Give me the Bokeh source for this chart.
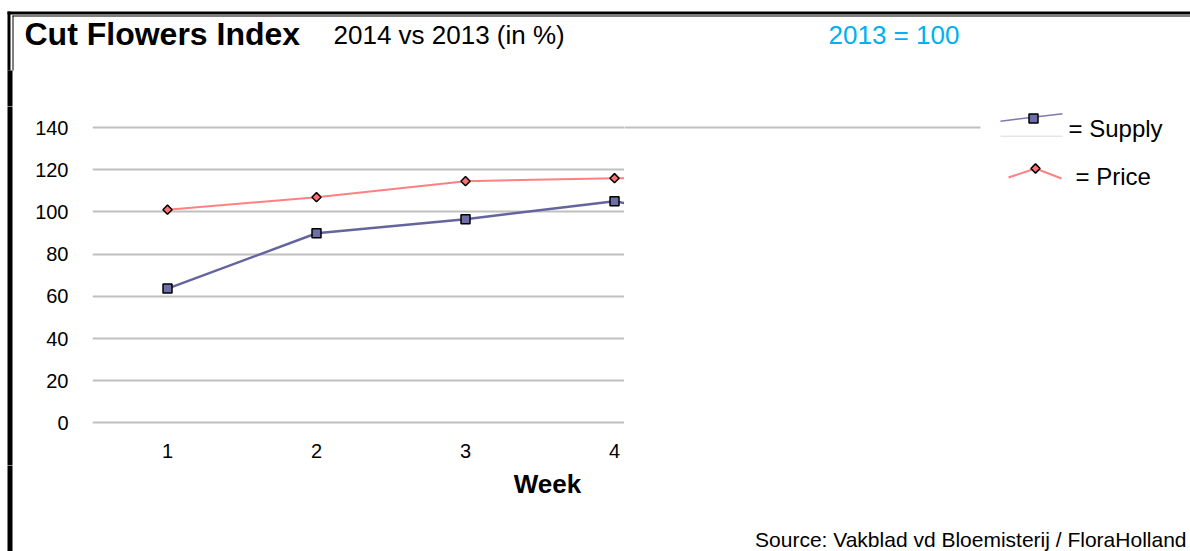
import numpy as np
from bokeh.plotting import figure
from bokeh.layouts import row, column
from bokeh.models import Range1d, FixedTicker, Label, BoxAnnotation
from bokeh.embed import file_html
from bokeh.resources import INLINE

# ---- data ----
weeks = [1, 2, 3, 4, 5]
supply = [63.7, 89.9, 96.6, 105.1, 92.0]
price = [101.1, 107.0, 114.6, 116.0, 116.0]
x_ticks = [1, 2, 3, 4]
y_ticks = [0, 20, 40, 60, 80, 100, 120, 140]

FONT = "Liberation Sans"
SUPPLY_LINE = "#64649E"
SUPPLY_FILL = "#6E6EA8"
PRICE_LINE = "#FF8080"
PRICE_FILL = "#FF7070"
GRID = "#C0C0C0"

TOTAL_W, TOTAL_H = 1190, 551
TOP_H, MID_H = 106, 359
BOT_H = TOTAL_H - TOP_H - MID_H
STRIP_W, CHART_W = 14, 610
RIGHT_W = TOTAL_W - STRIP_W - CHART_W


def pixel_fig(x0, x1, y0, y1):
    """Figure whose data space equals reference pixel coordinates (y downward)."""
    f = figure(width=x1 - x0, height=y1 - y0, output_backend="svg", toolbar_location=None,
               x_range=Range1d(x0, x1), y_range=Range1d(y1, y0),
               x_axis_type=None, y_axis_type=None,
               min_border=0, min_border_left=0, min_border_right=0,
               min_border_top=0, min_border_bottom=0)
    f.outline_line_color = None
    f.grid.visible = False
    f.background_fill_color = "white"
    f.border_fill_color = "white"
    return f


def rect(f, l, r, t, b, color="black"):
    f.add_layout(BoxAnnotation(left=l, right=r, top=t, bottom=b,
                               fill_color=color, fill_alpha=1, line_alpha=0))


def text(f, x, y, s, size, style="normal", color="black", align="left"):
    f.add_layout(Label(x=x, y=y, text=s, text_font=FONT, text_font_size=size,
                       text_font_style=style, text_color=color,
                       text_align=align, text_baseline="middle"))


def left_bar(f):
    rect(f, 7, 12, -2000, 2000)


# ---- top strip: frame + titles ----
top = pixel_fig(0, TOTAL_W, 0, TOP_H)
rect(top, 7, TOTAL_W, 11, 14)
rect(top, 12, TOTAL_W, 15, 16)
rect(top, 7, 10, 11, 70)
rect(top, 12, 13, 15, 70)
rect(top, 7, 12, 70, 200)
text(top, 24, 33, "Cut Flowers Index", "32px", "bold")
text(top, 333, 34, "2014 vs 2013 (in %)", "26px")
text(top, 828, 34, "2013 = 100", "26px", color="#00B0F0")

# ---- middle: left border strip ----
strip = pixel_fig(0, STRIP_W, TOP_H, TOP_H + MID_H)
left_bar(strip)

# ---- middle: chart ----
p = figure(width=CHART_W, height=MID_H, output_backend="svg", toolbar_location=None,
           x_range=Range1d(0.4966, 4.067), y_range=Range1d(-20.17, 150),
           min_border_left=78, min_border_right=0, min_border_top=0, min_border_bottom=0)
p.outline_line_color = None
p.background_fill_color = "white"
p.border_fill_color = "white"
p.xgrid.grid_line_color = None
p.ygrid.grid_line_color = GRID
p.ygrid.grid_line_width = 2
p.ygrid.ticker = FixedTicker(ticks=y_ticks)
for ax in (p.xaxis[0], p.yaxis[0]):
    ax.axis_line_color = None
    ax.major_tick_line_color = None
    ax.minor_tick_line_color = None
    ax.major_label_text_font = FONT
    ax.major_label_text_font_size = "20px"
    ax.major_label_text_color = "black"
p.xaxis[0].ticker = FixedTicker(ticks=x_ticks)
p.xaxis[0].fixed_location = -5
p.yaxis[0].ticker = FixedTicker(ticks=y_ticks)
p.yaxis[0].major_label_standoff = 18
p.xaxis[0].major_label_standoff = 5

p.line(weeks, price, line_color=PRICE_LINE, line_width=2)
p.scatter(weeks, price, marker="square", angle=np.pi / 4, size=6.5,
          fill_color=PRICE_FILL, line_color="black", line_width=1.5)
p.line(weeks, supply, line_color=SUPPLY_LINE, line_width=2.5)
p.scatter(weeks, supply, marker="square", size=9,
          fill_color=SUPPLY_FILL, line_color="black", line_width=1.5)

# ---- middle: right side (gridline extension + legend) ----
x0r = STRIP_W + CHART_W
right = pixel_fig(x0r, TOTAL_W, TOP_H, TOP_H + MID_H)
right.line([x0r - 2, 980], [127, 127], line_color=GRID, line_width=2)
right.line([1000, 1062], [120.7, 113.3], line_color="#7A7AB2", line_width=1.5)
right.line([1000, 1062], [135.7, 135.7], line_color="#D9D9D9", line_width=1)
right.scatter([1033], [118], marker="square", size=9,
              fill_color=SUPPLY_FILL, line_color="black", line_width=1.5)
right.line([1008, 1035, 1061], [177, 168, 178], line_color=PRICE_LINE, line_width=2)
right.scatter([1035], [168], marker="square", angle=np.pi / 4, size=6.5,
              fill_color=PRICE_FILL, line_color="black", line_width=1.5)
text(right, 1068, 128, "= Supply", "24px")
text(right, 1075, 176, "= Price", "24px")

# ---- bottom strip ----
bot = pixel_fig(0, TOTAL_W, TOP_H + MID_H, TOTAL_H)
left_bar(bot)
text(bot, 547, 483, "Week", "26px", "bold", align="center")
text(bot, 1186, 539, "Source: Vakblad vd Bloemisterij / FloraHolland", "21px", align="right")

layout = column(top, row(strip, p, right, spacing=0), bot, spacing=0)
open("out.html", "w").write(file_html(layout, INLINE))
